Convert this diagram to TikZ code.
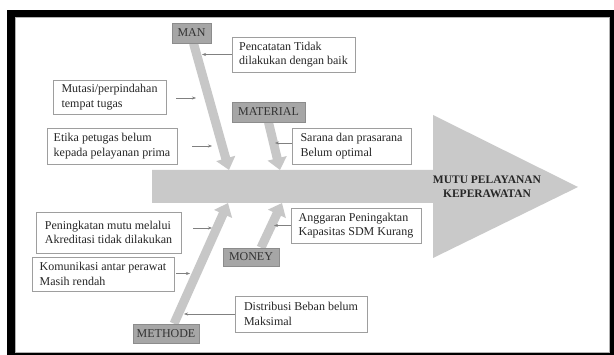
\documentclass[tikz,border=0pt]{standalone}
\usepackage{fontspec}
\setmainfont{Liberation Serif}
\usetikzlibrary{arrows.meta}
\pgfdeclarelayer{bg}
\pgfsetlayers{bg,main}
\begin{document}
\begin{tikzpicture}[x=1pt,y=-1pt,
  cause/.style={draw=black!38, line width=0.6pt, fill=white, align=left, inner sep=0pt,
    font=\fontsize{12}{14.5}\selectfont, text=black!85},
  cat/.style={draw=black!45, fill=black!35, line width=0.6pt, inner sep=0pt,
    font=\fontsize{12}{14}\selectfont, text=black!80},
  bone/.style={draw=black!22, line width=9pt, -{Triangle[width=19pt,length=12pt]}},
  link/.style={draw=black!50, line width=0.5pt, -{Stealth[length=4pt,width=3pt]}},
]
\useasboundingbox (0,0) rectangle (614,355);

% effect text
\node[font=\bfseries\fontsize{11.5}{14}\selectfont, align=center, text=black!85] (effect) at (487,187) {MUTU PELAYANAN\\KEPERAWATAN};

% category boxes
\node[cat, minimum width=39pt, minimum height=20pt] (man) at (191.5,33) {MAN};
\node[cat, minimum width=73pt, minimum height=20pt] (mat) at (268.5,112) {MATERIAL};
\node[cat, minimum width=56pt, minimum height=18pt] (mon) at (251,257) {MONEY};
\node[cat, minimum width=66pt, minimum height=19pt] (met) at (166,333.5) {METHODE};

% cause boxes
\node[cause, minimum width=123pt, minimum height=35pt] (pen) at (293.5,54.5) {Pencatatan Tidak\\dilakukan dengan baik};
\node[cause, minimum width=113pt, minimum height=34pt] (mut) at (109.5,97) {Mutasi/perpindahan\\tempat tugas};
\node[cause, minimum width=130pt, minimum height=36pt] (eti) at (112,146) {Etika petugas belum\\kepada pelayanan prima};
\node[cause, minimum width=119pt, minimum height=36pt] (sar) at (351.5,146) {Sarana dan prasarana\\Belum optimal};
\node[cause, minimum width=145pt, minimum height=41pt] (pmt) at (108.5,232.5) {Peningkatan mutu melalui\\Akreditasi tidak dilakukan};
\node[cause, minimum width=142pt, minimum height=34pt] (kom) at (103,274) {Komunikasi antar perawat\\Masih rendah};
\node[cause, minimum width=130pt, minimum height=35pt] (ang) at (356,225.5) {Anggaran Peningaktan\\Kapasitas SDM Kurang};
\node[cause, minimum width=132pt, minimum height=36pt] (dis) at (301,314) {Distribusi Beban belum\\Maksimal};

% tips of bones and links
\coordinate (manTip) at (229,170);
\coordinate (matTip) at (280,170);
\coordinate (monTip) at (282,203);
\coordinate (metTip) at (228,203);
\coordinate (penTip) at (202,54.5);
\coordinate (sarTip) at (275,143);
\coordinate (angTip) at (274,225.5);
\coordinate (disTip) at (184,314);
\coordinate (mutS) at (176,98);   \coordinate (mutTip) at (196,98);
\coordinate (etiS) at (192,146);  \coordinate (etiTip) at (212,146);
\coordinate (pmtS) at (193,228);  \coordinate (pmtTip) at (212,228);
\coordinate (komS) at (176,273.5);\coordinate (komTip) at (190,273.5);

\begin{pgfonlayer}{bg}
  \fill[black] (7,10) rectangle (614,355);
  \fill[white] (15,17) rectangle (609,352);
  \draw[black!30, line width=0.5pt] (15,17) rectangle (609,352);
  % spine
  \fill[black!21] (152,170) -- (433,170) -- (433,115) -- (578,187) -- (433,258) -- (433,203) -- (152,203) -- cycle;
  % bones
  \draw[bone] ([xshift=2pt]man.south) -- (manTip);
  \draw[bone] (mat.south) -- (matTip);
  \draw[bone] ([xshift=10pt]mon.north) -- (monTip);
  \draw[bone] ([xshift=8pt]met.north) -- (metTip);
\end{pgfonlayer}

% links
\draw[link] (pen.west |- penTip) -- (penTip);
\draw[link] (sar.west |- sarTip) -- (sarTip);
\draw[link] (ang.west |- angTip) -- (angTip);
\draw[link] (dis.west |- disTip) -- (disTip);
\draw[link] (mutS) -- (mutTip);
\draw[link] (etiS) -- (etiTip);
\draw[link] (pmtS) -- (pmtTip);
\draw[link] (komS) -- (komTip);
\end{tikzpicture}
\end{document}
